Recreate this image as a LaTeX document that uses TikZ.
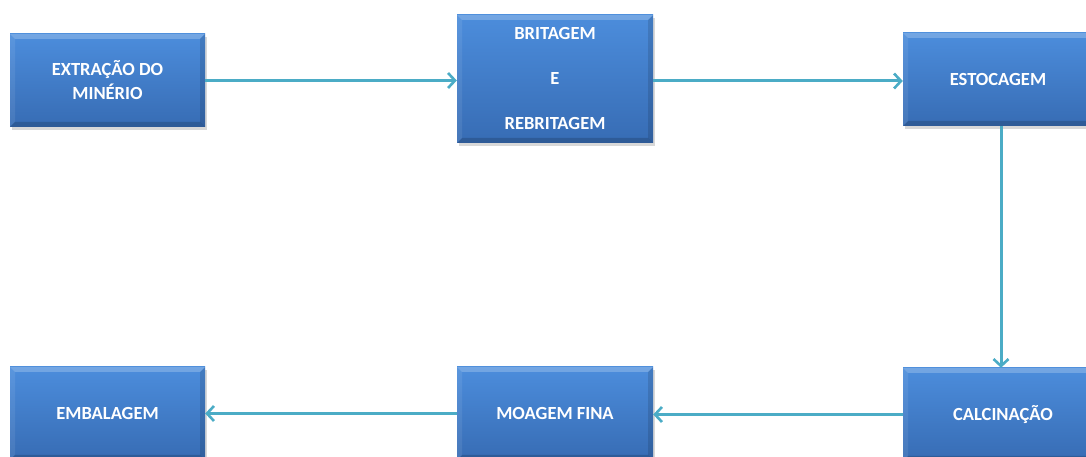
\documentclass[tikz,border=0pt]{standalone}
\usepackage{fontspec}
\setmainfont{Carlito}
\usetikzlibrary{arrows.meta,shadows}
\definecolor{boxtop}{RGB}{76,141,220}
\definecolor{boxbot}{RGB}{55,108,180}
\definecolor{flow}{RGB}{75,172,198}
\tikzset{
  x=1pt, y=1pt,
  stagebox/.style={
    rectangle, inner sep=0pt, minimum width=196pt, minimum height=93pt,
    top color=boxtop, bottom color=boxbot, draw=none,
    drop shadow={opacity=0.3, shadow xshift=2pt, shadow yshift=-3pt},
    text=white, font=\bfseries\fontsize{18.5}{24}\selectfont, align=center,
    path picture={
      \coordinate (nw) at (path picture bounding box.north west);
      \coordinate (ne) at (path picture bounding box.north east);
      \coordinate (sw) at (path picture bounding box.south west);
      \coordinate (se) at (path picture bounding box.south east);
      \fill[white,opacity=0.22] (nw) -- (ne) -- ([shift={(-5pt,-5pt)}]ne) -- ([shift={(5pt,-5pt)}]nw) -- cycle;
      \fill[white,opacity=0.08] (nw) -- ([shift={(5pt,-5pt)}]nw) -- ([shift={(5pt,5pt)}]sw) -- (sw) -- cycle;
      \fill[black,opacity=0.12] (ne) -- (se) -- ([shift={(-5pt,5pt)}]se) -- ([shift={(-5pt,-5pt)}]ne) -- cycle;
      \fill[black,opacity=0.16] (sw) -- (se) -- ([shift={(-5pt,5pt)}]se) -- ([shift={(5pt,5pt)}]sw) -- cycle;
    }
  },
  flowline/.style={draw=flow, line width=3pt, -{Straight Barb[length=7pt,width=15pt,line width=2.6pt]}}
}
\begin{document}
\begin{tikzpicture}
  \useasboundingbox (0,0) rectangle (1086,457);
  \clip (0,0) rectangle (1086,457);
  \fill[white] (0,0) rectangle (1086,457);

  % upper row of stages
  \node[stagebox, minimum width=195pt] (ext) at (107.5,376.5) {EXTRAÇÃO DO\\MINÉRIO};
  \node[stagebox, minimum height=128pt, font=\bfseries\fontsize{18.5}{22}\selectfont] (brit) at (555,378)
    {BRITAGEM\\[23pt]E\\[23pt]REBRITAGEM};
  \node[stagebox] (esto) at (1001,377.5) {\hspace*{-6pt}ESTOCAGEM};

  % lower row of stages
  \node[stagebox] (calc) at (1001,42.5) {\raisebox{-4pt}{\hspace*{4pt}CALCINAÇÃO}};
  \node[stagebox] (moag) at (555,43.5) {MOAGEM FINA};
  \node[stagebox, minimum width=195pt] (emba) at (107.5,43.5) {EMBALAGEM};

  % process flow
  \draw[flowline] (ext.east) -- (ext.east -| brit.west);
  \draw[flowline] ([yshift=-2pt]brit.east) -- ([yshift=-2pt]brit.east -| esto.west);
  \draw[flowline] (esto.south) -- (calc.north);
  \draw[flowline] (calc.west) -- (calc.west -| moag.east);
  \draw[flowline] (moag.west) -- (moag.west -| emba.east);
\end{tikzpicture}
\end{document}
